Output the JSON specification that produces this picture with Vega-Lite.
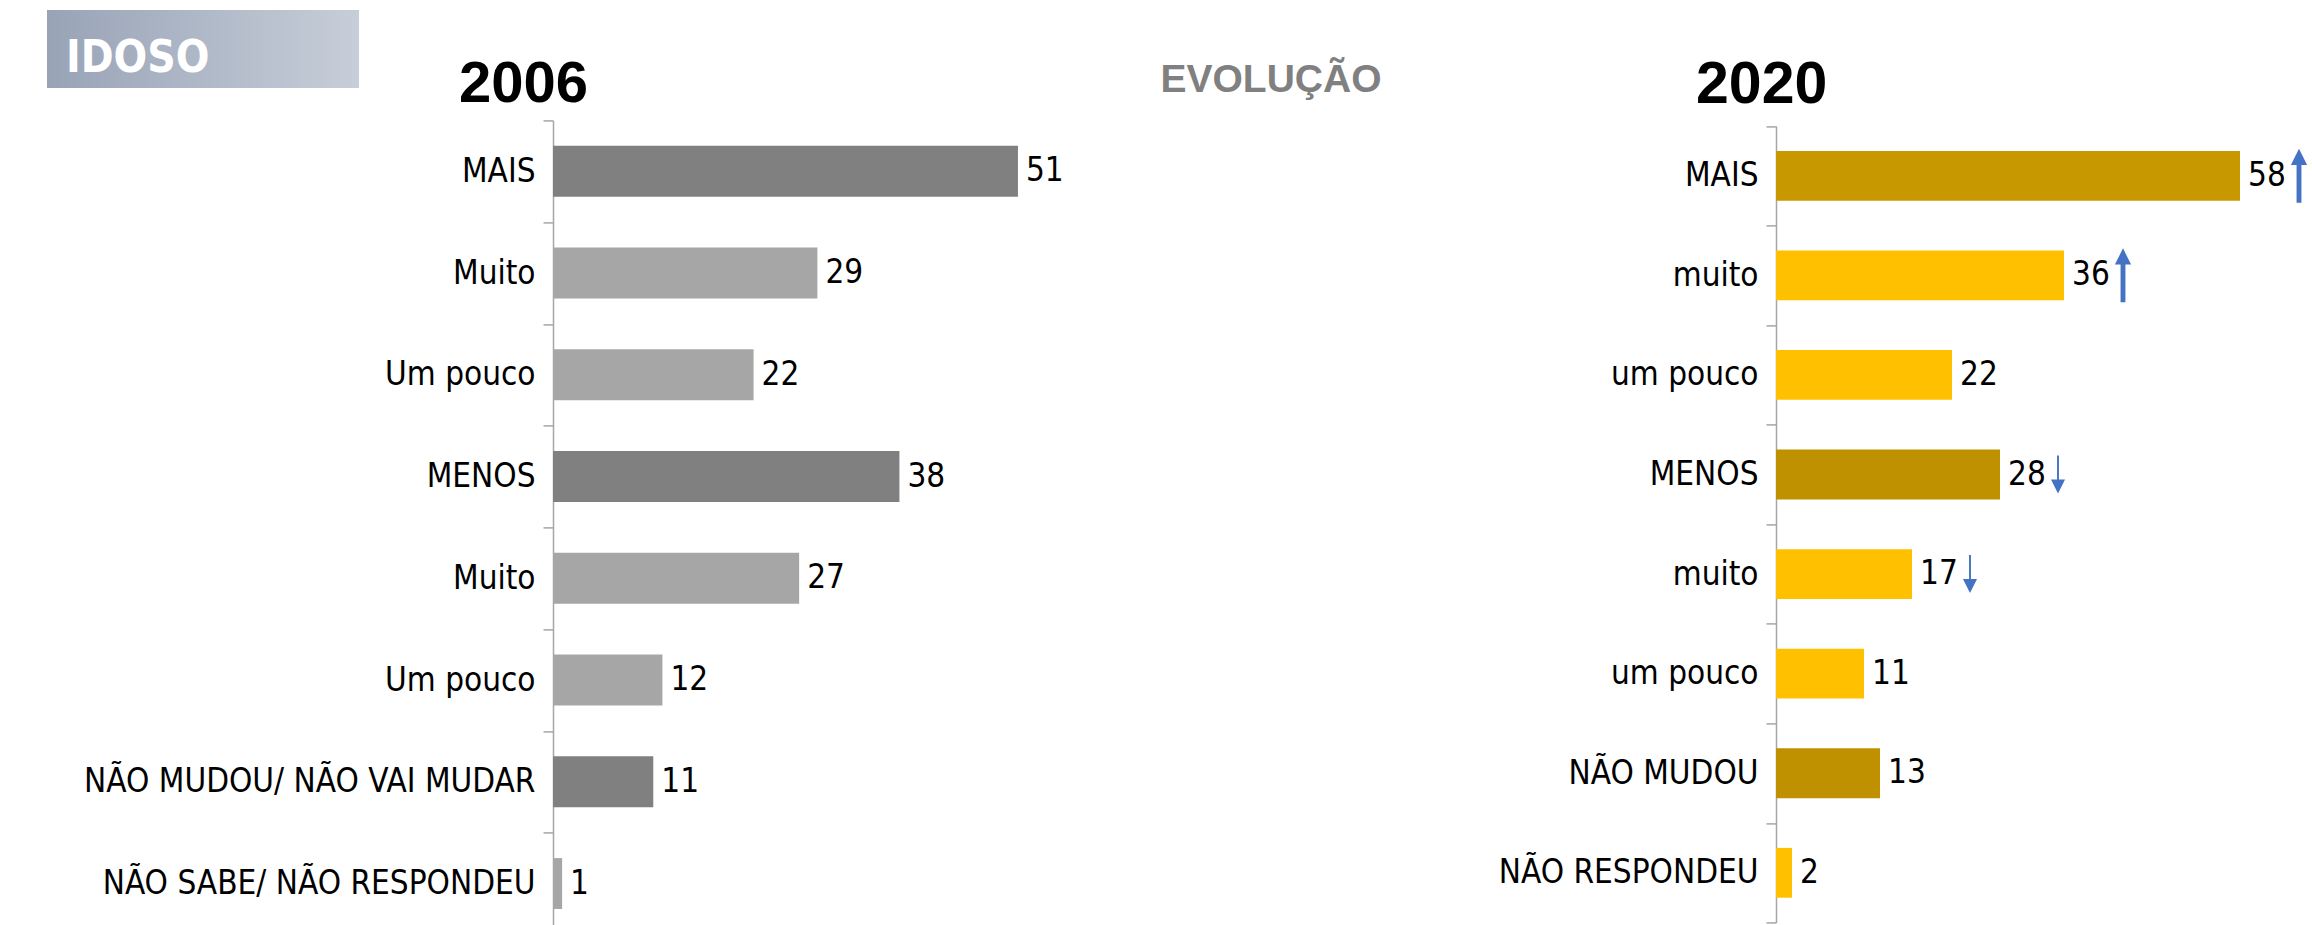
{
  "$schema": "https://vega.github.io/schema/vega-lite/v6.json",
  "padding": {"left": 47, "top": 10, "right": 0, "bottom": 0},
  "autosize": {"type": "pad"},
  "background": "white",
  "config": {
    "view": {"stroke": null},
    "font": "Liberation Sans",
    "axis": {"grid": false}
  },
  "datasets": {
    "y2006": [
      {"cat": "MAIS", "value": 51, "tone": "a"},
      {"cat": "Muito", "value": 29, "tone": "c"},
      {"cat": "Um pouco", "value": 22, "tone": "c"},
      {"cat": "MENOS", "value": 38, "tone": "b"},
      {"cat": "Muito\u200b", "value": 27, "tone": "c"},
      {"cat": "Um pouco\u200b", "value": 12, "tone": "c"},
      {"cat": "NÃO MUDOU/ NÃO VAI MUDAR", "value": 11, "tone": "b"},
      {"cat": "NÃO SABE/ NÃO RESPONDEU", "value": 1, "tone": "c"}
    ],
    "y2020": [
      {"cat": "MAIS", "value": 58, "tone": "a", "trend": "up"},
      {"cat": "muito", "value": 36, "tone": "c", "trend": "up"},
      {"cat": "um pouco", "value": 22, "tone": "c", "trend": ""},
      {"cat": "MENOS", "value": 28, "tone": "b", "trend": "down"},
      {"cat": "muito\u200b", "value": 17, "tone": "c", "trend": "down"},
      {"cat": "um pouco\u200b", "value": 11, "tone": "c", "trend": ""},
      {"cat": "NÃO MUDOU", "value": 13, "tone": "b", "trend": ""},
      {"cat": "NÃO RESPONDEU", "value": 2, "tone": "c", "trend": ""}
    ],
    "header": [{"label": "IDOSO"}],
    "evo": [{"label": "EVOLUÇÃO"}],
    "empty": []
  },
  "columns": 4,
  "bounds": "flush",
  "spacing": {"row": 32.4, "column": 194},
  "resolve": {"scale": {"color": "independent", "x": "independent", "y": "independent"}},
  "concat": [
    {
      "width": 312,
      "height": 78,
      "view": {
        "stroke": null,
        "fill": {"gradient": "linear", "x1": 0, "y1": 0, "x2": 1, "y2": 0,
          "stops": [{"offset": 0, "color": "#98A3B6"}, {"offset": 1, "color": "#C7CED9"}]}
      },
      "data": {"name": "header"},
      "mark": {"type": "text", "align": "left", "baseline": "alphabetic", "dx": -137, "dy": 22.5,
        "font": "DejaVu Sans Condensed", "fontWeight": "bold", "fontSize": 44, "color": "#FFFFFF"},
      "encoding": {"text": {"field": "label"}}
    },
    {
      "width": 1, "height": 1,
      "data": {"name": "empty"},
      "mark": "point",
      "encoding": {}
    },
    {
      "width": 288,
      "height": 78,
      "data": {"name": "evo"},
      "mark": {"type": "text", "align": "center", "baseline": "alphabetic", "dx": -167, "dy": 42.7,
        "font": "Liberation Sans", "fontWeight": "bold", "fontSize": 39, "color": "#808080"},
      "encoding": {"text": {"field": "label"}}
    },
    {
      "width": 1, "height": 1,
      "data": {"name": "empty"},
      "mark": "point",
      "encoding": {}
    },
    {
      "width": 1, "height": 1,
      "data": {"name": "empty"},
      "mark": "point",
      "encoding": {}
    },
    {
      "width": 547,
      "height": 814,
      "data": {"name": "y2006"},
      "title": {"text": "2006", "anchor": "start", "frame": "group", "fontSize": 58, "fontWeight": "bold",
        "color": "#000000", "font": "Liberation Sans", "baseline": "alphabetic", "offset": -55.5, "dx": -94},
      "encoding": {
        "y": {"field": "cat", "type": "nominal", "sort": null,
          "scale": {"paddingInner": 0, "paddingOuter": 0},
          "axis": {"title": null, "domainColor": "#A6A6A6", "domainWidth": 1.5, "tickColor": "#A6A6A6",
            "tickWidth": 1.5, "tickSize": 10, "tickBand": "extent", "labelFontSize": 33,
            "labelFont": "DejaVu Sans Condensed",
            "labelColor": "#000000", "labelPadding": 8, "labelLimit": 1000}},
        "x": {"field": "value", "type": "quantitative", "scale": {"domain": [0, 60]}, "axis": null}
      },
      "layer": [
        {
          "mark": {"type": "bar", "height": {"band": 0.5}},
          "encoding": {"color": {"field": "tone", "type": "nominal",
            "scale": {"domain": ["a", "b", "c"], "range": ["#808080", "#808080", "#A6A6A6"]}, "legend": null}}
        },
        {
          "mark": {"type": "text", "align": "left", "baseline": "middle", "dx": 8, "fontSize": 33,
            "font": "DejaVu Sans Condensed", "color": "#000000"},
          "encoding": {"text": {"field": "value", "type": "quantitative"}}
        }
      ]
    },
    {
      "width": 1, "height": 1,
      "data": {"name": "empty"},
      "mark": "point",
      "encoding": {}
    },
    {
      "width": 480,
      "height": 814,
      "data": {"name": "y2020"},
      "title": {"text": "2020", "anchor": "start", "frame": "group", "fontSize": 59, "fontWeight": "bold",
        "color": "#000000", "font": "Liberation Sans", "baseline": "alphabetic", "offset": -57.5, "dx": -80},
      "encoding": {
        "y": {"field": "cat", "type": "nominal", "sort": null,
          "scale": {"paddingInner": 0, "paddingOuter": 0, "range": [5.6, 802.2]},
          "axis": {"title": null, "domainColor": "#A6A6A6", "domainWidth": 1.5, "tickColor": "#A6A6A6",
            "tickWidth": 1.5, "tickSize": 10, "tickBand": "extent", "labelFontSize": 33,
            "labelFont": "DejaVu Sans Condensed",
            "labelColor": "#000000", "labelPadding": 8, "labelLimit": 1000}},
        "x": {"field": "value", "type": "quantitative", "scale": {"domain": [0, 60]}, "axis": null}
      },
      "layer": [
        {
          "mark": {"type": "bar", "height": {"band": 0.5}},
          "encoding": {"color": {"field": "tone", "type": "nominal",
            "scale": {"domain": ["a", "b", "c"], "range": ["#C89800", "#BF9000", "#FFC000"]}, "legend": null}}
        },
        {
          "mark": {"type": "text", "align": "left", "baseline": "middle", "dx": 8, "fontSize": 33,
            "font": "DejaVu Sans Condensed", "color": "#000000"},
          "encoding": {"text": {"field": "value", "type": "quantitative"}}
        },
        {
          "transform": [{"filter": "datum.trend === 'up'"}],
          "mark": {"type": "point", "shape": "M0,-1L0.3,-0.4L0.09,-0.4L0.09,1L-0.09,1L-0.09,-0.4L-0.3,-0.4Z",
            "size": 2916, "filled": true, "color": "#4472C4", "opacity": 1, "strokeWidth": 0, "xOffset": 59}
        },
        {
          "transform": [{"filter": "datum.trend === 'down'"}],
          "mark": {"type": "point", "shape": "M0,1L0.37,0.26L0.05,0.26L0.05,-1L-0.05,-1L-0.05,0.26L-0.37,0.26Z",
            "size": 1444, "filled": true, "color": "#4472C4", "opacity": 1, "strokeWidth": 0, "xOffset": 58}
        }
      ]
    }
  ]
}
